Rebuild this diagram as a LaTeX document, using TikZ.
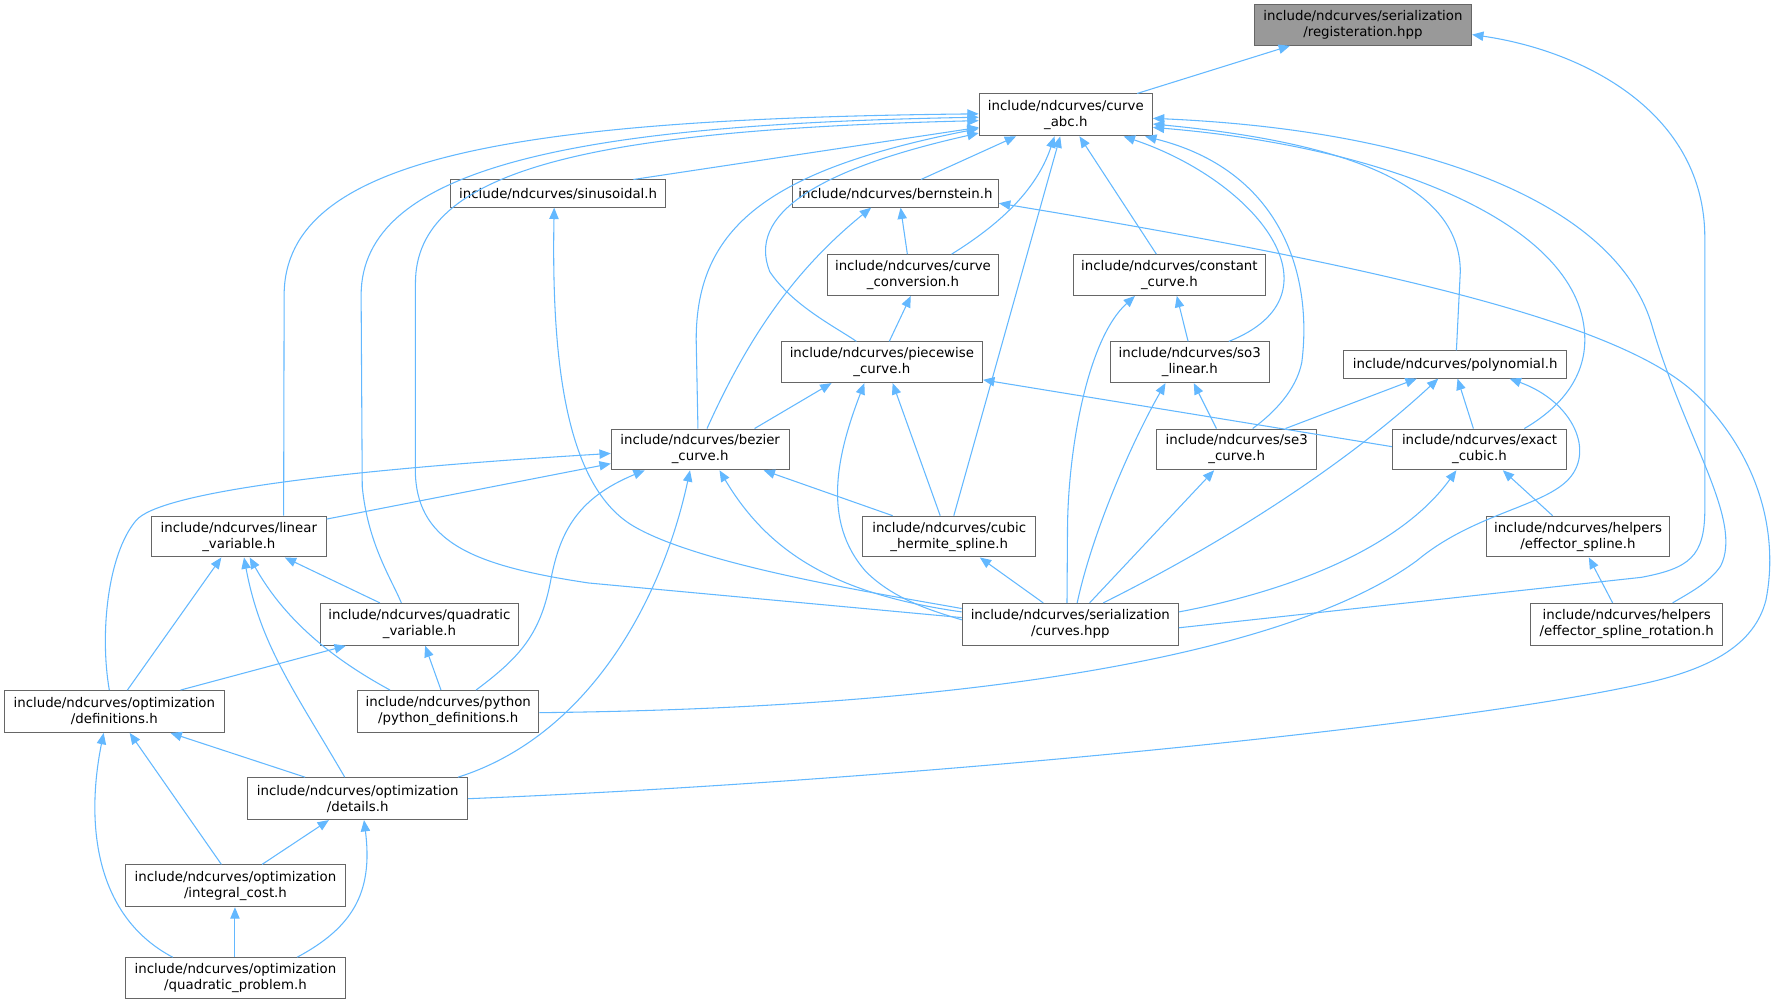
\documentclass[tikz,border=0pt]{standalone}
\usepackage{fontspec}
\setmainfont{DejaVu Sans}
\usetikzlibrary{arrows.meta,calc}
\definecolor{edgeblue}{HTML}{63B8FF}
\definecolor{boxgray}{HTML}{666666}
\definecolor{rootgray}{HTML}{999999}
\tikzset{
  box/.style={draw=boxgray, fill=white, line width=0.75pt, align=center, inner sep=0pt, font=\fontsize{10}{12}\selectfont},
  edge/.style={draw=edgeblue, line width=0.8pt, {Triangle[length=8.5pt,width=7pt]}-}
}
\newcommand{\nd}[7][]{\node[box,#1,minimum width={(#4-#3)*0.849pt},minimum height={(#6-#5)*0.849pt}] (#2) at ({(#3+#4)/2},{(#5+#6)/2}) {#7};}
\begin{document}
\begin{tikzpicture}[x=0.849pt,y=-0.849pt]
\useasboundingbox (0,0) rectangle (1568,887);
\nd[fill=rootgray]{reg}{1108}{1300}{4}{40}{include/ndcurves/serialization\\/registeration.hpp}
\nd{abc}{865}{1018}{83}{120}{include/ndcurves/curve\\\_abc.h}
\nd{sin}{398}{588}{159}{183}{include/ndcurves/sinusoidal.h}
\nd{ber}{700}{882}{159}{183}{include/ndcurves/bernstein.h}
\nd{conv}{731}{882}{225}{261}{include/ndcurves/curve\\\_conversion.h}
\nd{cnst}{948}{1118}{225}{261}{include/ndcurves/constant\\\_curve.h}
\nd{pw}{690}{868}{302}{338}{include/ndcurves/piecewise\\\_curve.h}
\nd{so3}{981}{1121}{302}{338}{include/ndcurves/so3\\\_linear.h}
\nd{poly}{1187}{1384}{310}{334}{include/ndcurves/polynomial.h}
\nd{bez}{540}{697}{379}{415}{include/ndcurves/bezier\\\_curve.h}
\nd{se3}{1022}{1163}{379}{415}{include/ndcurves/se3\\\_curve.h}
\nd{exact}{1230}{1384}{379}{415}{include/ndcurves/exact\\\_cubic.h}
\nd{lin}{134}{288}{456}{492}{include/ndcurves/linear\\\_variable.h}
\nd{herm}{762}{915}{456}{492}{include/ndcurves/cubic\\\_hermite\_spline.h}
\nd{eff}{1313}{1475}{456}{492}{include/ndcurves/helpers\\/effector\_spline.h}
\nd{quad}{283}{458}{533}{570}{include/ndcurves/quadratic\\\_variable.h}
\nd{ser}{850}{1041}{533}{570}{include/ndcurves/serialization\\/curves.hpp}
\nd{effrot}{1352}{1522}{533}{570}{include/ndcurves/helpers\\/effector\_spline\_rotation.h}
\nd{odef}{4}{198}{610}{647}{include/ndcurves/optimization\\/definitions.h}
\nd{pydef}{316}{476}{610}{647}{include/ndcurves/python\\/python\_definitions.h}
\nd{odet}{219}{413}{687}{724}{include/ndcurves/optimization\\/details.h}
\nd{icost}{111}{305}{764}{801}{include/ndcurves/optimization\\/integral\_cost.h}
\nd{qprob}{111}{305}{846}{882}{include/ndcurves/optimization\\/quadratic\_problem.h}
% registeration
\draw[edge] ($(reg.south west)+(32,0)$) -- ($(abc.north west)+(140,0)$);
\draw[edge] ($(reg.north east)+(0,27)$) .. controls (1400,45) and (1506,100) .. (1506,210) -- (1506,450) .. controls (1506,492) and (1492,502) .. (1450,510) -- ($(ser.north east)+(0,22)$);
% curve_abc
\draw[edge] ($(abc.north west)+(0,30)$) -- ($(sin.north west)+(162,0)$);
\draw[edge] ($(abc.north west)+(0,18)$) .. controls (450,105) and (252,140) .. (251,260) -- ($(lin.north west)+(117,0)$);
\draw[edge] ($(abc.north west)+(0,21)$) .. controls (500,110) and (320,150) .. (319,260) -- (320,430) .. controls (325,480) and (345,510) .. ($(quad.north west)+(72,0)$);
\draw[edge] ($(abc.north west)+(0,24)$) .. controls (520,115) and (367,150) .. (367,250) -- (367,420) .. controls (370,480) and (420,500) .. (520,515) -- ($(ser.north west)+(0,13)$);
\draw[edge] ($(abc.north west)+(0,31)$) .. controls (680,150) and (615,200) .. (615,300) -- ($(bez.north west)+(77,0)$);
\draw[edge] ($(abc.north west)+(0,35)$) .. controls (720,150) and (660,190) .. (680,240) .. controls (700,270) and (740,290) .. ($(pw.north west)+(67,0)$);
\draw[edge] ($(abc.south west)+(67,0)$) .. controls (915,170) and (880,200) .. ($(conv.north west)+(110,0)$);
\draw[edge] ($(abc.south west)+(72,0)$) -- ($(herm.north west)+(81,0)$);
\draw[edge] ($(abc.south west)+(33,0)$) -- ($(ber.north west)+(114,0)$);
\draw[edge] ($(abc.south west)+(89,0)$) -- ($(cnst.north west)+(74,0)$);
\draw[edge] ($(abc.south west)+(128,0)$) .. controls (1110,160) and (1190,260) .. ($(so3.north west)+(105,0)$);
\draw[edge] ($(abc.south west)+(147,0)$) .. controls (1130,150) and (1160,240) .. (1150,320) .. controls (1145,345) and (1125,365) .. ($(se3.north west)+(85,0)$);
\draw[edge] ($(abc.north east)+(0,27)$) .. controls (1180,125) and (1290,160) .. (1290,240) -- ($(poly.north west)+(100,0)$);
\draw[edge] ($(abc.north east)+(0,30)$) .. controls (1230,130) and (1400,200) .. (1400,300) .. controls (1400,340) and (1370,365) .. ($(exact.north west)+(117,0)$);
\draw[edge] ($(abc.north east)+(0,22)$) .. controls (1260,115) and (1430,180) .. (1460,290) .. controls (1490,390) and (1540,460) .. (1520,500) .. controls (1510,515) and (1490,525) .. ($(effrot.north west)+(126,0)$);
% bernstein
\draw[edge] ($(ber.south west)+(96,0)$) -- ($(conv.north west)+(71,0)$);
\draw[edge] ($(ber.south west)+(70,0)$) .. controls (700,240) and (660,300) .. ($(bez.north west)+(85,0)$);
\draw[edge] ($(ber.north east)+(0,21)$) .. controls (1250,240) and (1440,290) .. (1500,350) .. controls (1560,410) and (1570,480) .. (1560,530) .. controls (1550,570) and (1510,590) .. (1460,602) .. controls (1300,640) and (800,690) .. ($(odet.north east)+(0,19)$);
% sinusoidal
\draw[edge] ($(sin.south west)+(92,0)$) .. controls (487,320) and (500,430) .. (560,465) .. controls (620,500) and (780,525) .. ($(ser.north west)+(0,5)$);
% conversion, constant
\draw[edge] ($(conv.south west)+(74,0)$) -- ($(pw.north west)+(96,0)$);
\draw[edge] ($(cnst.south west)+(92,0)$) -- ($(so3.north west)+(69,0)$);
\draw[edge] ($(cnst.south west)+(55,0)$) .. controls (960,300) and (943,400) .. (943,470) -- ($(ser.north west)+(93,0)$);
% piecewise
\draw[edge] ($(pw.south west)+(45,0)$) -- ($(bez.north west)+(127,0)$);
\draw[edge] ($(pw.south west)+(99,0)$) -- ($(herm.north west)+(69,0)$);
\draw[edge] ($(pw.south west)+(74,0)$) .. controls (740,400) and (725,460) .. (765,505) .. controls (790,530) and (825,540) .. ($(ser.north west)+(0,15)$);
\draw[edge] ($(pw.north east)+(0,34)$) -- ($(exact.north west)+(0,16)$);
% so3
\draw[edge] ($(so3.south west)+(74,0)$) -- ($(se3.north west)+(53,0)$);
\draw[edge] ($(so3.south west)+(49,0)$) .. controls (1000,390) and (965,470) .. ($(ser.north west)+(102,0)$);
% polynomial
\draw[edge] ($(poly.south west)+(65,0)$) -- ($(se3.north west)+(114,0)$);
\draw[edge] ($(poly.south west)+(84,0)$) .. controls (1200,400) and (1100,470) .. ($(ser.north west)+(125,0)$);
\draw[edge] ($(poly.south west)+(101,0)$) -- ($(exact.north west)+(72,0)$);
\draw[edge] ($(poly.south west)+(147,0)$) .. controls (1390,355) and (1410,400) .. (1384,425) .. controls (1360,448) and (1300,455) .. (1252,495) .. controls (1150,570) and (900,625) .. ($(pydef.north east)+(0,20)$);
% bezier
\draw[edge] ($(bez.north west)+(0,31)$) -- ($(lin.north east)+(0,3)$);
\draw[edge] ($(bez.north west)+(0,22)$) .. controls (300,415) and (140,435) .. (120,460) .. controls (95,490) and (88,560) .. ($(odef.north west)+(93,0)$);
\draw[edge] ($(bez.south west)+(30,0)$) .. controls (510,440) and (495,470) .. (487,510) .. controls (478,560) and (460,580) .. ($(pydef.north west)+(105,0)$);
\draw[edge] ($(bez.south west)+(70,0)$) .. controls (585,530) and (520,650) .. ($(odet.north west)+(186,0)$);
\draw[edge] ($(bez.south west)+(135,0)$) -- ($(herm.north west)+(27,0)$);
\draw[edge] ($(bez.south west)+(96,0)$) .. controls (680,490) and (740,525) .. ($(ser.north west)+(0,8)$);
% se3, exact, helpers, hermite
\draw[edge] ($(se3.south west)+(51,0)$) -- ($(ser.north west)+(113,0)$);
\draw[edge] ($(exact.south west)+(57,0)$) .. controls (1240,480) and (1150,520) .. ($(ser.north east)+(0,8)$);
\draw[edge] ($(exact.south west)+(98,0)$) -- ($(eff.north west)+(59,0)$);
\draw[edge] ($(eff.south west)+(91,0)$) -- ($(effrot.north west)+(73,0)$);
\draw[edge] ($(herm.south west)+(104,0)$) -- ($(ser.north west)+(72,0)$);
% linear_variable
\draw[edge] ($(lin.south west)+(118,0)$) -- ($(quad.north west)+(53,0)$);
\draw[edge] ($(lin.south west)+(62,0)$) -- ($(odef.north west)+(109,0)$);
\draw[edge] ($(lin.south west)+(87,0)$) .. controls (250,545) and (290,580) .. ($(pydef.north west)+(29,0)$);
\draw[edge] ($(lin.south west)+(82,0)$) .. controls (230,570) and (260,610) .. ($(odet.north west)+(86,0)$);
% quadratic_variable
\draw[edge] ($(quad.south west)+(23,0)$) -- ($(odef.north west)+(156,0)$);
\draw[edge] ($(quad.south west)+(93,0)$) -- ($(pydef.north west)+(74,0)$);
% optimization
\draw[edge] ($(odef.south west)+(147,0)$) -- ($(odet.north west)+(51,0)$);
\draw[edge] ($(odef.south west)+(111,0)$) -- ($(icost.north west)+(85,0)$);
\draw[edge] ($(odef.south west)+(88,0)$) .. controls (75,730) and (85,810) .. ($(qprob.north west)+(42,0)$);
\draw[edge] ($(odet.south west)+(72,0)$) -- ($(icost.north west)+(121,0)$);
\draw[edge] ($(odet.south west)+(103,0)$) .. controls (330,790) and (310,820) .. ($(qprob.north west)+(152,0)$);
\draw[edge] ($(icost.south west)+(97,0)$) -- ($(qprob.north west)+(97,0)$);
\end{tikzpicture}
\end{document}
